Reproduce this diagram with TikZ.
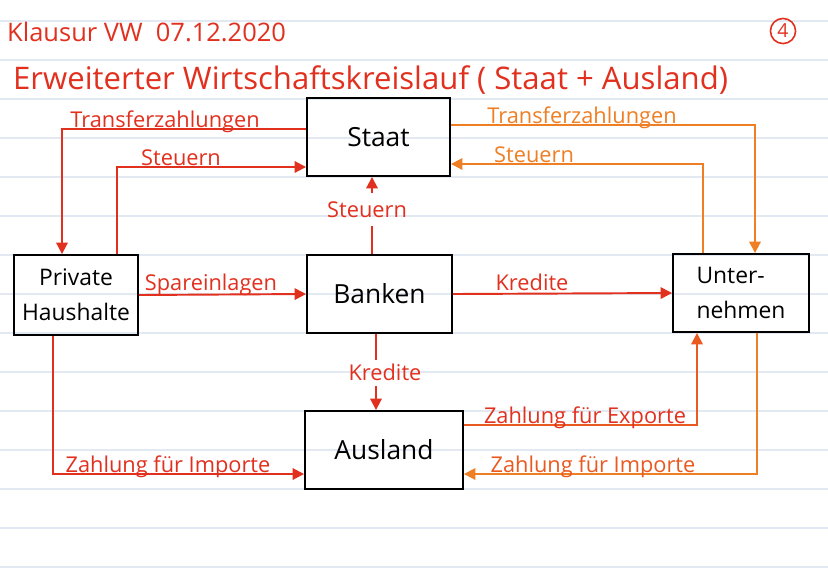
\documentclass[tikz,border=0pt]{standalone}
\usepackage{fontspec}
\setmainfont{Open Sans}
\usetikzlibrary{arrows.meta}
\definecolor{penred}{HTML}{E2301F}
\definecolor{penorange}{HTML}{EE7F25}
\definecolor{penmix}{HTML}{EA5A20}
\definecolor{ruling}{HTML}{E2E9F2}
\begin{document}
\begin{tikzpicture}[x=0.02cm,y=-0.02cm,
  box/.style={draw=black,line width=1.1pt,inner sep=2pt,font=\fontsize{15}{18}\selectfont},
  box2/.style={box,font=\fontsize{13}{20}\selectfont},
  flow/.style={line width=1.1pt,-{Triangle[length=6.5pt,width=6.5pt]}},
  plain/.style={line width=1.1pt},
  lbl/.style={font=\fontsize{12.4}{14}\selectfont,inner sep=0pt,anchor=base}]
\useasboundingbox (0,0) rectangle (828,586);
\fill[white] (0,0) rectangle (828,586);
\foreach \y in {21,60,...,567} \draw[ruling,line width=0.6pt] (0,\y) -- (828,\y);

% header
\node[anchor=west,text=penred,font=\fontsize{14.5}{16}\selectfont] (klausur) at (1,32) {Klausur VW\ \ 07.12.2020};
\node[circle,draw=penred,text=penred,line width=0.9pt,inner sep=1.5pt,font=\fontsize{11}{12}\selectfont] (nr) at (783,31) {4};
\node[anchor=west,text=penred,font=\fontsize{17.7}{20}\selectfont] (title) at (7,80) {Erweiterter Wirtschaftskreislauf ( Staat + Ausland)};

% boxes
\node[box,minimum width=2.86cm,minimum height=1.56cm] (staat) at (378.5,137) {Staat};
\node[box,minimum width=2.9cm,minimum height=1.56cm] (banken) at (379.5,294) {Banken};
\node[box2,minimum width=2.48cm,minimum height=1.6cm,align=center] (ph) at (76,295) {Private\\Haushalte};
\node[box2,minimum width=2.72cm,minimum height=1.56cm,align=left] (unt) at (741,293) {Unter-\\nehmen};
\node[box,minimum width=3.16cm,minimum height=1.56cm] (ausland) at (384,450) {Ausland};

% Staat <-> Private Haushalte
\coordinate (tl) at (62,129);
\draw[flow,penred] (staat.west |- tl) -- (tl) -- (tl |- ph.north);
\node[lbl,text=penred] (ltl) at (165,127) {Transferzahlungen};
\coordinate (sl) at (117,167);
\draw[flow,penred] (ph.north -| sl) -- (sl) -- (sl -| staat.west);
\node[lbl,text=penred] (lsl) at (181,165) {Steuern};

% Banken -> Staat
\coordinate (sm1) at (372,226);
\coordinate (sm2) at (372,193);
\draw[plain,penred] (banken.north -| sm1) -- (sm1);
\draw[flow,penred] (sm2) -- (sm2 |- staat.south);
\node[text=penred,font=\fontsize{12.4}{14}\selectfont,inner sep=0pt] (lsm) at (367,210) {Steuern};

% Private Haushalte -> Banken -> Unternehmen
\draw[flow,penred] (ph.east) -- (banken.west);
\node[lbl,text=penred] (lsp) at (211,290) {Spareinlagen};
\draw[flow,penred] (banken.east) -- (unt.west);
\node[lbl,text=penred] (lkr) at (532,290) {Kredite};

% Staat <-> Unternehmen
\coordinate (tr) at (755,125);
\draw[flow,penorange] (staat.east |- tr) -- (tr) -- (tr |- unt.north);
\node[lbl,text=penorange] (ltr) at (582,123) {Transferzahlungen};
\coordinate (sr) at (703,164);
\draw[flow,penorange] (unt.north -| sr) -- (sr) -- (sr -| staat.east);
\node[lbl,text=penorange] (lsr) at (534,162) {Steuern};

% Banken -> Ausland
\coordinate (km1) at (376,360);
\coordinate (km2) at (376,386);
\draw[plain,penred] (banken.south -| km1) -- (km1);
\draw[flow,penred] (km2) -- (km2 |- ausland.north);
\node[text=penred,font=\fontsize{12.4}{14}\selectfont,inner sep=0pt] (lkm) at (385,372) {Kredite};

% Ausland flows
\coordinate (il) at (53,474);
\draw[flow,penred] (ph.south -| il) -- (il) -- (il -| ausland.west);
\node[lbl,text=penred] (lil) at (168,472) {Zahlung für Importe};
\coordinate (ex) at (697,425);
\draw[flow,penmix] (ausland.east |- ex) -- (ex) -- (ex |- unt.south);
\node[lbl,text=penred] (lex) at (585,423) {Zahlung für Exporte};
\coordinate (ir) at (757,474);
\draw[flow,penorange] (unt.south -| ir) -- (ir) -- (ir -| ausland.east);
\node[lbl,text=penmix] (lir) at (593,472) {Zahlung für Importe};
\end{tikzpicture}
\end{document}
